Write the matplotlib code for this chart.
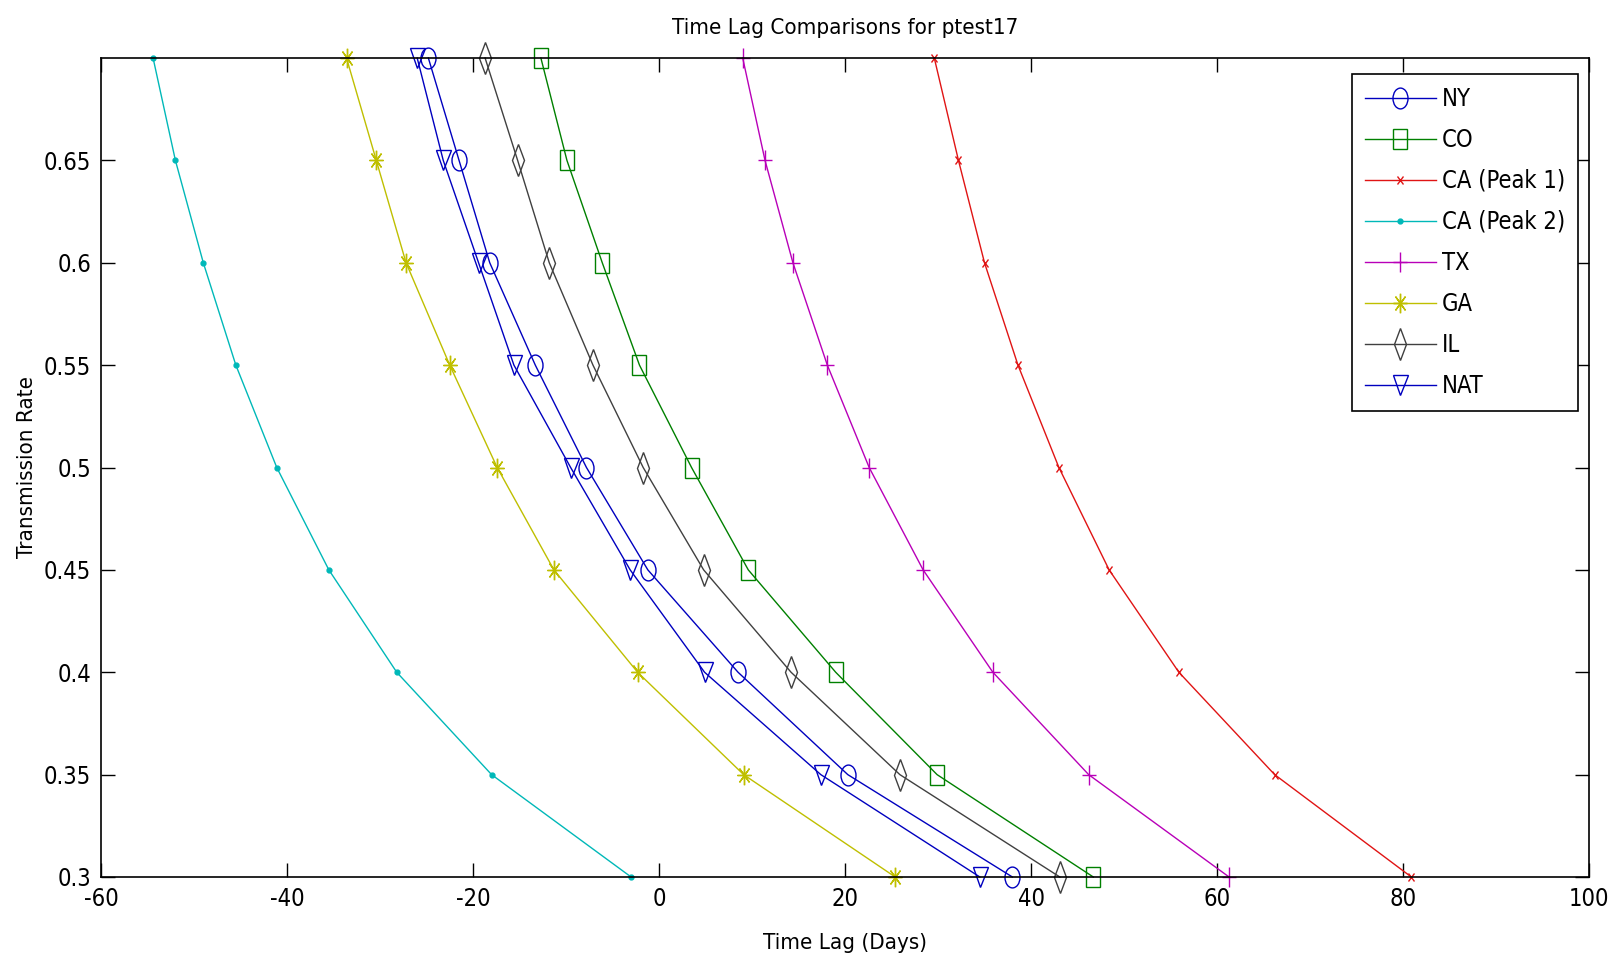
import matplotlib
matplotlib.use("Agg")
import matplotlib.pyplot as plt
import matplotlib.font_manager as fm
from matplotlib.markers import MarkerStyle
from matplotlib.transforms import Affine2D

plt.rcParams['axes.unicode_minus'] = False

# Transmission rates (y) and the time lag in days (x) for each region
rates = [0.30, 0.35, 0.40, 0.45, 0.50, 0.55, 0.60, 0.65, 0.70]

ny = [38.0, 20.3, 8.5, -1.2, -7.8, -13.3, -18.2, -21.5, -24.8]
co = [46.7, 29.9, 19.0, 9.6, 3.5, -2.1, -6.1, -9.9, -12.7]
ca_peak1 = [80.9, 66.2, 55.9, 48.4, 43.0, 38.6, 35.0, 32.2, 29.6]
ca_peak2 = [-3.0, -18.0, -28.2, -35.5, -41.1, -45.5, -49.0, -52.0, -54.4]
tx = [61.3, 46.2, 35.9, 28.4, 22.6, 18.1, 14.4, 11.4, 9.0]
ga = [25.4, 9.1, -2.3, -11.3, -17.4, -22.5, -27.2, -30.4, -33.6]
il = [43.1, 25.9, 14.2, 4.8, -1.7, -7.1, -11.8, -15.2, -18.7]
nat = [34.5, 17.4, 4.9, -3.1, -9.5, -15.6, -19.4, -23.2, -26.0]

labels = ['NY', 'CO', 'CA (Peak 1)', 'CA (Peak 2)', 'TX', 'GA', 'IL', 'NAT']
xticks = [-60, -40, -20, 0, 20, 40, 60, 80, 100]
yticks = [0.3, 0.35, 0.4, 0.45, 0.5, 0.55, 0.6, 0.65]
yticklabels = ['0.3', '0.35', '0.4', '0.45', '0.5', '0.55', '0.6', '0.65']

series = [ny, co, ca_peak1, ca_peak2, tx, ga, il, nat]

# Pick a narrow sans-serif face if one is available
narrow = None
for f in fm.fontManager.ttflist:
    nm = f.name.lower()
    if ('narrow' in nm or 'condensed' in nm or f.stretch == 'condensed') \
            and f.weight in (400, 'normal', 'regular') and f.style == 'normal':
        narrow = f.fname
        break
if narrow is None:
    for f in fm.fontManager.ttflist:
        fn = f.fname.lower()
        if ('condensed' in fn or 'narrow' in fn) and 'bold' not in fn \
                and 'oblique' not in fn and 'italic' not in fn:
            narrow = f.fname
            break

if narrow is not None:
    tick_size, label_size = 17, 16
    base = dict(fname=narrow)
else:
    tick_size, label_size = 15, 14
    base = dict(family='Liberation Sans')


def font(size):
    return fm.FontProperties(size=size, **base)


def squeezed(m, sx=0.72):
    return MarkerStyle(m, transform=Affine2D().scale(sx, 1.0))


styles = [
    dict(color=(0.0, 0.0, 0.75), marker=squeezed('o'), ms=15, mfc='none'),
    dict(color=(0.0, 0.5, 0.0), marker=squeezed('s'), ms=15, mfc='none'),
    dict(color=(0.88, 0.08, 0.08), marker=squeezed('x'), ms=6, mfc='none'),
    dict(color=(0.0, 0.72, 0.72), marker='.', ms=7),
    dict(color=(0.72, 0.0, 0.72), marker=squeezed('+'), ms=14, mfc='none'),
    dict(color=(0.75, 0.75, 0.0), marker=squeezed((8, 2, 0)), ms=14, mfc='none'),
    dict(color=(0.25, 0.25, 0.25), marker=squeezed('d', 0.65), ms=16, mfc='none'),
    dict(color=(0.0, 0.0, 0.75), marker=squeezed('v'), ms=15, mfc='none'),
]

fig = plt.figure(figsize=(16.17, 9.57), dpi=100)
ax = fig.add_axes([101 / 1617, 1 - 877 / 957, 1488 / 1617, 819 / 957])

for vals, lab, st in zip(series, labels, styles):
    ax.plot(vals, rates, label=lab, lw=1.0, mew=1.0, clip_on=False, **st)

ax.set_xlim(-60, 100)
ax.set_ylim(0.3, 0.7)
ax.set_xticks(xticks)
ax.set_xticklabels([str(v) for v in xticks], fontproperties=font(tick_size))
ax.set_yticks(yticks)
ax.set_yticklabels(yticklabels, fontproperties=font(tick_size))
ax.tick_params(direction='in', length=10, width=1.0, top=True, right=True, pad=7)
ax.tick_params(axis='x', pad=7)
for sp in ax.spines.values():
    sp.set_linewidth(1.2)

ax.set_title('Time Lag Comparisons for ptest17', fontproperties=font(label_size), pad=17)
ax.set_xlabel('Time Lag (Days)', fontproperties=font(label_size))
ax.set_ylabel('Transmission Rate', fontproperties=font(label_size))
ax.xaxis.set_label_coords(0.5, -0.068)
ax.yaxis.set_label_coords(-0.043, 0.5)

leg = ax.legend(loc='upper right', bbox_to_anchor=(1578 / 1617, 1 - 74 / 957),
                bbox_transform=fig.transFigure, prop=font(tick_size), frameon=True,
                fancybox=False, framealpha=1.0, edgecolor='black',
                handlelength=3.0, handletextpad=0.25, labelspacing=0.72,
                borderpad=0.55, borderaxespad=0.0)
leg.get_frame().set_linewidth(1.2)

fig.savefig('out.png', dpi=100)
